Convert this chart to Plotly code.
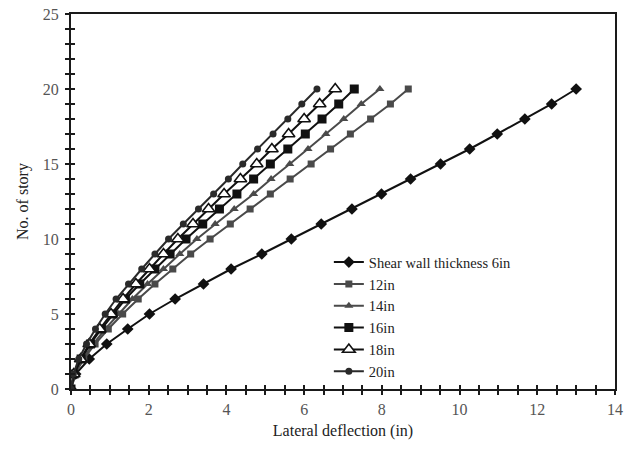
import plotly.graph_objects as go

stories = list(range(0, 21))

d_6in = [0, 0.12, 0.47, 0.92, 1.46, 2.02, 2.68, 3.41, 4.12, 4.91, 5.67, 6.44, 7.23, 7.99, 8.74, 9.51, 10.26, 10.97, 11.68, 12.37, 13.0]
d_12in = [0, 0.1, 0.33, 0.62, 0.96, 1.33, 1.73, 2.16, 2.62, 3.08, 3.58, 4.1, 4.61, 5.13, 5.64, 6.18, 6.68, 7.19, 7.71, 8.22, 8.68]
d_14in = [0, 0.09, 0.3, 0.57, 0.88, 1.22, 1.58, 1.97, 2.38, 2.8, 3.24, 3.71, 4.2, 4.7, 5.15, 5.63, 6.1, 6.56, 7.02, 7.47, 7.95]
d_16in = [0, 0.08, 0.26, 0.5, 0.78, 1.08, 1.4, 1.77, 2.16, 2.55, 2.96, 3.39, 3.82, 4.27, 4.7, 5.13, 5.58, 6.03, 6.46, 6.89, 7.29]
d_18in = [0, 0.07, 0.25, 0.47, 0.74, 1.03, 1.34, 1.67, 2.02, 2.38, 2.75, 3.14, 3.54, 3.94, 4.36, 4.78, 5.17, 5.6, 6.0, 6.4, 6.8]
d_20in = [0, 0.06, 0.2, 0.4, 0.63, 0.88, 1.16, 1.48, 1.82, 2.16, 2.51, 2.89, 3.28, 3.67, 4.05, 4.42, 4.8, 5.2, 5.58, 5.94, 6.33]

series_names = ["Shear wall thickness 6in", "12in", "14in", "16in", "18in", "20in"]
series_data = [d_6in, d_12in, d_14in, d_16in, d_18in, d_20in]

styles = [
    dict(line=dict(color="#111111", width=2), marker=dict(symbol="diamond", size=9, color="#111111")),
    dict(line=dict(color="#4a4a4a", width=2), marker=dict(symbol="square", size=7, color="#4a4a4a")),
    dict(line=dict(color="#4a4a4a", width=2), marker=dict(symbol="triangle-up", size=8, color="#4a4a4a")),
    dict(line=dict(color="#111111", width=2), marker=dict(symbol="square", size=9, color="#111111")),
    dict(line=dict(color="#111111", width=2), marker=dict(symbol="triangle-up", size=11, color="white",
                                                          line=dict(color="#111111", width=1.6))),
    dict(line=dict(color="#2a2a2a", width=2), marker=dict(symbol="circle", size=7, color="#2a2a2a")),
]

fig = go.Figure()
for name, data, st in zip(series_names, series_data, styles):
    fig.add_trace(go.Scatter(x=data, y=stories, mode="lines+markers", name=name, **st))

# invisible trace to anchor the overlay axes (crossing ticks)
fig.add_trace(go.Scatter(x=[0], y=[0], xaxis="x2", yaxis="y2", mode="markers",
                         marker=dict(opacity=0), showlegend=False, hoverinfo="skip"))

font_family = "Liberation Serif"
axis_color = "#1a1a1a"

fig.update_layout(
    width=626, height=462,
    margin=dict(l=71, r=11, t=14, b=73, autoexpand=False),
    paper_bgcolor="white", plot_bgcolor="white",
    font=dict(family=font_family, size=16, color="#222222"),
    showlegend=True,
    legend=dict(x=0.474, y=0.381, xanchor="left", yanchor="top",
                bgcolor="rgba(0,0,0,0)", borderwidth=0,
                font=dict(family=font_family, size=14.5, color="#222222"),
                tracegroupgap=0),
    xaxis=dict(range=[0, 14], dtick=2, tick0=0, showgrid=False, zeroline=False, automargin=False,
               showline=True, linecolor=axis_color, linewidth=2, mirror=True,
               ticks="outside", ticklen=4, tickwidth=1.5, tickcolor=axis_color,
               minor=dict(dtick=0.5, ticks="outside", ticklen=4, tickwidth=1.5, tickcolor=axis_color),
               tickfont=dict(family=font_family, size=16, color="#555555"), ticklabelstandoff=1,
               title=dict(text="Lateral deflection (in)", font=dict(family=font_family, size=16, color="#222222"), standoff=8)),
    yaxis=dict(range=[0, 25], dtick=5, tick0=0, showgrid=False, zeroline=False, automargin=False,
               showline=True, linecolor=axis_color, linewidth=2, mirror=True,
               ticks="outside", ticklen=4, tickwidth=1.5, tickcolor=axis_color,
               minor=dict(dtick=1, ticks="outside", ticklen=4, tickwidth=1.5, tickcolor=axis_color),
               tickfont=dict(family=font_family, size=16, color="#555555"), ticklabelstandoff=3,
               title=dict(text="No. of story", font=dict(family=font_family, size=16, color="#222222"), standoff=10)),
    xaxis2=dict(range=[0, 14], overlaying="x", anchor="y", side="bottom", dtick=0.5, tick0=0,
                showgrid=False, zeroline=False, showline=False, showticklabels=False, automargin=False,
                ticks="inside", ticklen=4, tickwidth=1.5, tickcolor=axis_color),
    yaxis2=dict(range=[0, 25], overlaying="y", anchor="x", side="left", dtick=1, tick0=0,
                showgrid=False, zeroline=False, showline=False, showticklabels=False, automargin=False,
                ticks="inside", ticklen=4, tickwidth=1.5, tickcolor=axis_color),
)

fig.write_html("out.html", config={"displayModeBar": False},
               post_script="document.body.style.margin='0';")
